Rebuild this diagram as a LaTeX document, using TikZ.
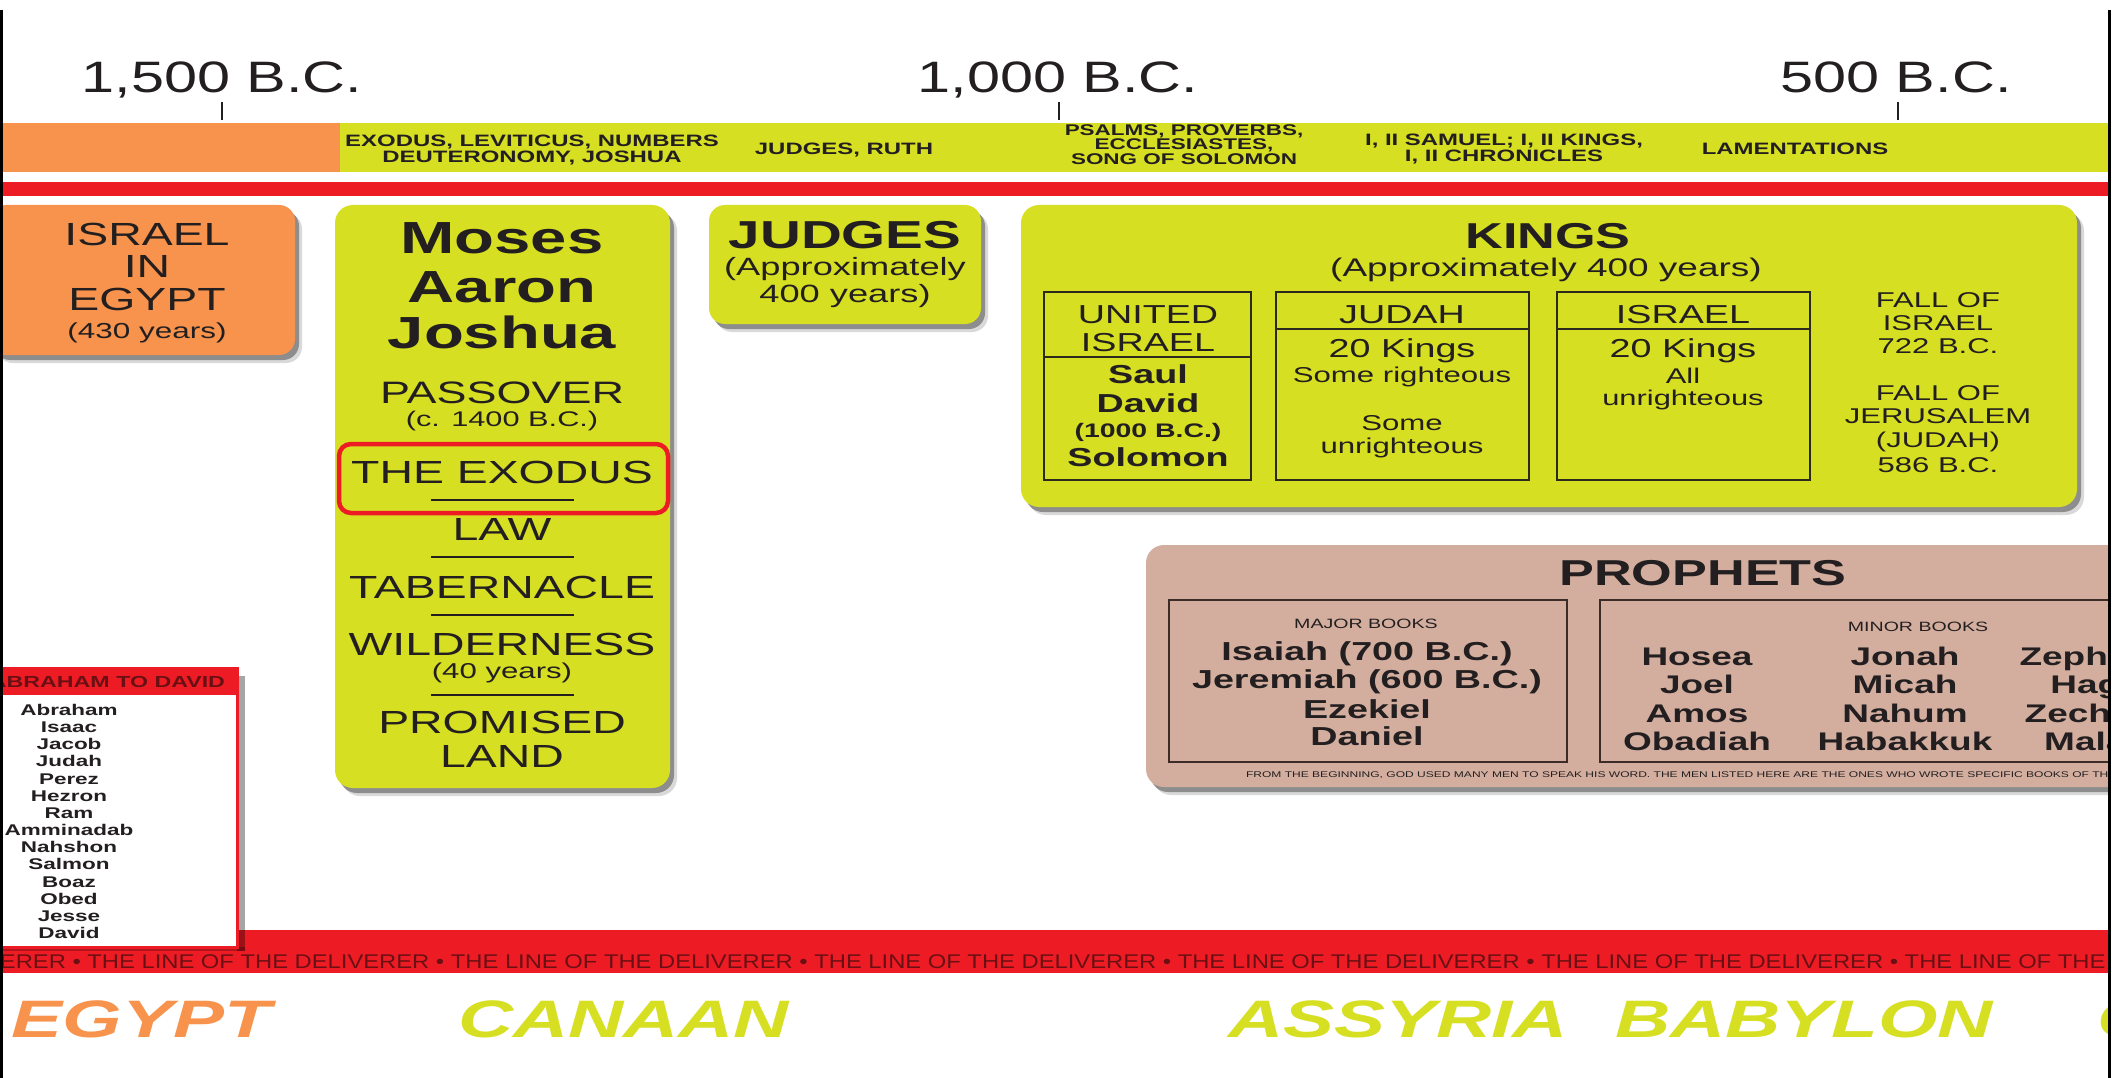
\documentclass[tikz,border=0pt]{standalone}
\usepackage{fontspec}
\setmainfont{Liberation Sans}[FakeStretch=1.45]
\newfontfamily\tlfont{Liberation Sans}[FakeStretch=1.35]
\newfontfamily\linefont{Liberation Sans}[FakeStretch=1.2]
\definecolor{ink}{HTML}{231F20}
\definecolor{egyptc}{HTML}{F7934C}
\definecolor{canaanc}{HTML}{D7DF23}
\definecolor{redc}{HTML}{ED1C24}
\definecolor{tanc}{HTML}{D3AE9F}
\definecolor{darkred}{HTML}{6A1014}
\definecolor{boxline}{HTML}{2B2A1C}
\definecolor{brownline}{HTML}{3D2B27}
\newcommand{\fz}[1]{\fontsize{#1}{#1}\selectfont}
\newcommand{\shadowed}[4]{%
  \fill[black,opacity=0.15,rounded corners=#2,shift={(7,8)}] #3 rectangle #4;
  \fill[black,opacity=0.35,rounded corners=#2,shift={(4,5)}] #3 rectangle #4;
  \fill[#1,rounded corners=#2] #3 rectangle #4;
}
\begin{document}
\begin{tikzpicture}[x=1pt,y=-1pt,
  txt/.style={inner sep=0pt,outer sep=0pt,anchor=base,text=ink},
  bandtxt/.style={txt,font=\bfseries\fz{16.5}},
  tltxt/.style={txt,font=\tlfont\fz{44}},
  sep/.style={ink,line width=2},
  inbox/.style={draw=boxline,line width=2.2},
  pbox/.style={draw=brownline,line width=2.2},
  place/.style={inner sep=0pt,outer sep=0pt,anchor=base west,font=\bfseries\itshape\fz{52.7}}]
\useasboundingbox (0,0) rectangle (2112,1078);
\fill[white] (0,0) rectangle (2112,1078);
\begin{scope}
\clip (3,0) rectangle (2108,1078);
% timeline
\node[tltxt] (t1500) at (222,93) {1,500 B.C.};
\node[tltxt] (t1000) at (1058,93) {1,000 B.C.};
\node[tltxt] (t500) at (1896,93) {500 B.C.};
\draw[ink,line width=2.5] (222,102) -- (222,120);
\draw[ink,line width=2.5] (1059,102) -- (1059,120);
\draw[ink,line width=2.5] (1898,102) -- (1898,120);
% book band
\fill[egyptc] (0,123) rectangle (340,172);
\fill[canaanc] (340,123) rectangle (2112,172);
\fill[redc] (0,182) rectangle (2112,196);
\node[bandtxt] (ba1) at (532,147) {EXODUS, LEVITICUS, NUMBERS};
\node[bandtxt] (ba2) at (532,163) {DEUTERONOMY, JOSHUA};
\node[bandtxt] (bb) at (844,155) {JUDGES, RUTH};
\node[bandtxt,font=\bfseries\fz{15.5}] (bc1) at (1184,136) {PSALMS, PROVERBS,};
\node[bandtxt,font=\bfseries\fz{15.5}] (bc2) at (1184,150) {ECCLESIASTES,};
\node[bandtxt,font=\bfseries\fz{15.5}] (bc3) at (1184,165) {SONG OF SOLOMON};
\node[bandtxt] (bd1) at (1504,146) {I, II SAMUEL; I, II KINGS,};
\node[bandtxt] (bd2) at (1504,162) {I, II CHRONICLES};
\node[bandtxt] (be) at (1795,155) {LAMENTATIONS};
% Israel in Egypt
\shadowed{egyptc}{16}{(-10,205)}{(295,355)}
\node[txt,font=\fz{32}] (ie1) at (147,245) {ISRAEL};
\node[txt,font=\fz{32}] (ie2) at (147,277) {IN};
\node[txt,font=\fz{32}] (ie3) at (147,310) {EGYPT};
\node[txt,font=\fz{21.7}] (ie4) at (147,338) {(430 years)};
% Moses
\shadowed{canaanc}{18}{(335,205)}{(670,788)}
\node[txt,font=\bfseries\fz{45}] (m1) at (502,253) {Moses};
\node[txt,font=\bfseries\fz{45}] (m2) at (502,302) {Aaron};
\node[txt,font=\bfseries\fz{45}] (m3) at (502,348) {Joshua};
\node[txt,font=\fz{31}] (m4) at (502,403) {PASSOVER};
\node[txt,font=\fz{21.2}] (m5) at (502,426) {(c. 1400 B.C.)};
\node[txt,font=\fz{32}] (m6) at (502,483) {THE EXODUS};
\draw[sep] (431,500) -- (574,500);
\node[txt,font=\fz{32}] (m7) at (502,540) {LAW};
\draw[sep] (431,557) -- (574,557);
\node[txt,font=\fz{32}] (m8) at (502,598) {TABERNACLE};
\draw[sep] (431,615) -- (574,615);
\node[txt,font=\fz{32}] (m9) at (502,655) {WILDERNESS};
\node[txt,font=\fz{21.5}] (m10) at (502,678) {(40 years)};
\draw[sep] (431,695) -- (574,695);
\node[txt,font=\fz{32}] (m11) at (502,733) {PROMISED};
\node[txt,font=\fz{32}] (m12) at (502,767) {LAND};
\draw[redc,line width=4.5,rounded corners=12] (339,444) rectangle (668,513);
% Judges
\shadowed{canaanc}{16}{(709,205)}{(981,324)}
\node[txt,font=\bfseries\fz{39}] (j1) at (845,248) {JUDGES};
\node[txt,font=\fz{25}] (j2) at (845,275) {(Approximately};
\node[txt,font=\fz{25}] (j3) at (845,302) {400 years)};
% Kings
\shadowed{canaanc}{18}{(1021,205)}{(2077,507)}
\node[txt,font=\bfseries\fz{36}] (k1) at (1548,248) {KINGS};
\node[txt,font=\fz{25.5}] (k2) at (1546,276) {(Approximately 400 years)};
\draw[inbox] (1044,292) rectangle (1251,480);
\draw[inbox] (1044,357) -- (1251,357);
\node[txt,font=\fz{26}] (u1) at (1148,323) {UNITED};
\node[txt,font=\fz{26}] (u2) at (1148,351) {ISRAEL};
\node[txt,font=\bfseries\fz{26}] (u3) at (1148,383) {Saul};
\node[txt,font=\bfseries\fz{26}] (u4) at (1148,412) {David};
\node[txt,font=\bfseries\fz{19.6}] (u5) at (1148,437) {(1000 B.C.)};
\node[txt,font=\bfseries\fz{26}] (u6) at (1148,466) {Solomon};
\draw[inbox] (1276,292) rectangle (1529,480);
\draw[inbox] (1276,329) -- (1529,329);
\node[txt,font=\fz{26}] (jd1) at (1402,323) {JUDAH};
\node[txt,font=\fz{26}] (jd2) at (1402,357) {20 Kings};
\node[txt,font=\fz{21.5}] (jd3) at (1402,382) {Some righteous};
\node[txt,font=\fz{21.5}] (jd4) at (1402,430) {Some};
\node[txt,font=\fz{21.5}] (jd5) at (1402,453) {unrighteous};
\draw[inbox] (1557,292) rectangle (1810,480);
\draw[inbox] (1557,329) -- (1810,329);
\node[txt,font=\fz{26}] (is1) at (1683,323) {ISRAEL};
\node[txt,font=\fz{26}] (is2) at (1683,357) {20 Kings};
\node[txt,font=\fz{21.3}] (is3) at (1683,383) {All};
\node[txt,font=\fz{21.3}] (is4) at (1683,405) {unrighteous};
\node[txt,font=\fz{21.4}] (f1) at (1938,307) {FALL OF};
\node[txt,font=\fz{21.4}] (f2) at (1938,330) {ISRAEL};
\node[txt,font=\fz{21.4}] (f3) at (1938,353) {722 B.C.};
\node[txt,font=\fz{21.4}] (f4) at (1938,400) {FALL OF};
\node[txt,font=\fz{21.4}] (f5) at (1938,423) {JERUSALEM};
\node[txt,font=\fz{21.4}] (f6) at (1938,447) {(JUDAH)};
\node[txt,font=\fz{21.4}] (f7) at (1938,472) {586 B.C.};
% Prophets
\shadowed{tanc}{18}{(1146,545)}{(2250,787)}
\node[txt,font=\bfseries\fz{36}] (p0) at (1703,585) {PROPHETS};
\draw[pbox] (1169,600) rectangle (1567,762);
\draw[pbox] (1600,600) rectangle (2250,762);
\node[txt,font=\fz{13.5}] (pm) at (1366,628) {MAJOR BOOKS};
\node[txt,font=\bfseries\fz{26}] (pm1) at (1367,660) {Isaiah (700 B.C.)};
\node[txt,font=\bfseries\fz{26}] (pm2) at (1367,688) {Jeremiah (600 B.C.)};
\node[txt,font=\bfseries\fz{26}] (pm3) at (1367,718) {Ezekiel};
\node[txt,font=\bfseries\fz{26}] (pm4) at (1367,745) {Daniel};
\node[txt,font=\fz{13.5}] (pn) at (1918,631) {MINOR BOOKS};
\node[txt,font=\bfseries\fz{25.5}] (a1) at (1697,665) {Hosea};
\node[txt,font=\bfseries\fz{25.5}] (a2) at (1697,693) {Joel};
\node[txt,font=\bfseries\fz{25.5}] (a3) at (1697,722) {Amos};
\node[txt,font=\bfseries\fz{25.5}] (a4) at (1697,750) {Obadiah};
\node[txt,font=\bfseries\fz{25.5}] (b1) at (1905,665) {Jonah};
\node[txt,font=\bfseries\fz{25.5}] (b2) at (1905,693) {Micah};
\node[txt,font=\bfseries\fz{25.5}] (b3) at (1905,722) {Nahum};
\node[txt,font=\bfseries\fz{25.5}] (b4) at (1905,750) {Habakkuk};
\node[txt,font=\bfseries\fz{25.5}] (c1) at (2112,665) {Zephaniah};
\node[txt,font=\bfseries\fz{25.5}] (c2) at (2112,693) {Haggai};
\node[txt,font=\bfseries\fz{25.5}] (c3) at (2112,722) {Zechariah};
\node[txt,font=\bfseries\fz{25.5}] (c4) at (2112,750) {Malachi};
\node[txt,anchor=base west,font=\fz{8.3}] (pf) at (1246,777) {FROM THE BEGINNING, GOD USED MANY MEN TO SPEAK HIS WORD. THE MEN LISTED HERE ARE THE ONES WHO WROTE SPECIFIC BOOKS OF THE};
% line of the deliverer
\fill[redc] (0,930) rectangle (2112,973);
\node[txt,anchor=base west,text=darkred,font=\linefont\fz{19.8}] (ld) at (-276,968) {THE LINE OF THE DELIVERER • THE LINE OF THE DELIVERER • THE LINE OF THE DELIVERER • THE LINE OF THE DELIVERER • THE LINE OF THE DELIVERER • THE LINE OF THE DELIVERER • THE LINE OF THE DELIVERER • THE LINE OF THE DELIVERER •};
% Abraham to David
\fill[black,opacity=0.35] (237,676) rectangle (245,951);
\fill[black,opacity=0.25] (-5,947) rectangle (245,951);
\fill[white] (-5,668) rectangle (237,947);
\fill[redc] (-5,668) rectangle (237,695);
\draw[redc,line width=3] (-5,668) rectangle (237,947);
\node[txt,anchor=base east,text=darkred,font=\bfseries\fz{16}] (ad) at (225,687) {ABRAHAM TO DAVID};
\foreach \nm [count=\i from 0] in {Abraham,Isaac,Jacob,Judah,Perez,Hezron,Ram,Amminadab,Nahshon,Salmon,Boaz,Obed,Jesse,David}
  \node[txt,font=\bfseries\fz{15.5}] (g\i) at (69,715.5+17.15*\i) {\nm};
% places
\node[place,text=egyptc] (pl1) at (12,1037) {EGYPT};
\node[place,text=canaanc] (pl2) at (458,1037) {CANAAN};
\node[place,text=canaanc] (pl3) at (1228,1037) {ASSYRIA};
\node[place,text=canaanc] (pl4) at (1615,1037) {BABYLON};
\node[place,text=canaanc] (pl5) at (2097,1037) {G};
\end{scope}
\draw[black,line width=3] (1.5,10) -- (1.5,1078);
\draw[black,line width=2.5] (2109.5,10) -- (2109.5,1078);
\end{tikzpicture}
\end{document}
